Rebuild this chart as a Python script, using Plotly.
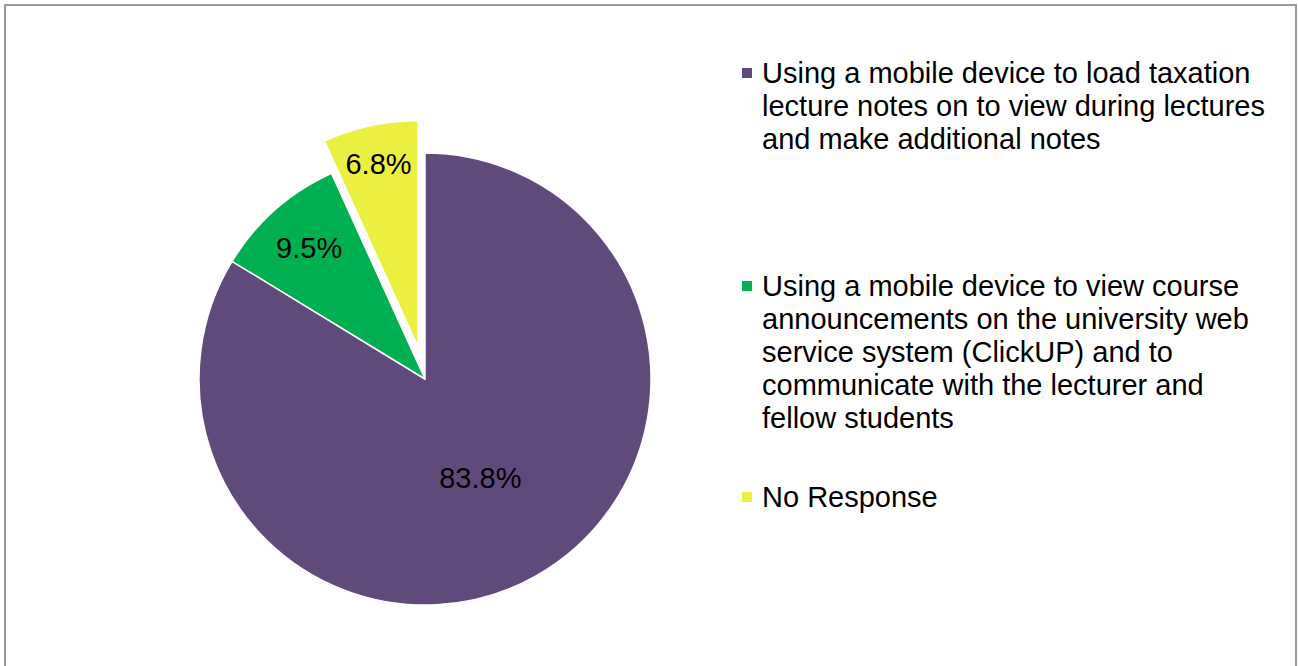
import plotly.graph_objects as go

# Survey responses: how students use mobile devices in taxation lectures
categories = [
    "Using a mobile device to load taxation lecture notes on to view during lectures and make additional notes",
    "Using a mobile device to view course announcements on the university web service system (ClickUP) and to communicate with the lecturer and fellow students",
    "No Response",
]
shares = [83.8, 9.5, 6.8]
colors = ["#604A7B", "#00B050", "#EBEF40"]
pulls = [0, 0, 0.146]

# Legend text, wrapped as in the chart
legend_lines = [
    ["Using a mobile device to load taxation",
     "lecture notes on to view during lectures",
     "and make additional notes"],
    ["Using a mobile device to view course",
     "announcements on the university web",
     "service system (ClickUP) and to",
     "communicate with the lecturer and",
     "fellow students"],
    ["No Response"],
]
legend_line_px = [[73, 106, 139], [286, 319, 352, 385, 418], [497]]

W, H = 1298, 666
FONT = "Liberation Sans, Arial, sans-serif"

fig = go.Figure()
fig.add_trace(go.Pie(
    labels=categories,
    values=shares,
    sort=False,
    direction="clockwise",
    rotation=0,
    pull=pulls,
    marker=dict(colors=colors, line=dict(color="white", width=1.5)),
    texttemplate="%{value:.1f}%",
    textposition="inside",
    insidetextorientation="horizontal",
    textfont=dict(family=FONT, size=29, color="black"),
    showlegend=False,
    hoverinfo="label+value",
    domain=dict(x=[166 / W, 684 / W], y=[1 - 638 / H, 1 - 120 / H]),
))

shapes = [
    # outer frame
    dict(type="rect", xref="paper", yref="paper",
         x0=5 / W, x1=1296 / W, y0=-0.02, y1=1 - 5 / H,
         line=dict(color="#9A9A9A", width=2), fillcolor="rgba(0,0,0,0)"),
]
annotations = []
for lines, ys, col in zip(legend_lines, legend_line_px, colors):
    y0 = ys[0]
    shapes.append(dict(type="rect", xref="paper", yref="paper",
                       x0=742 / W, x1=752 / W,
                       y0=1 - (y0 + 5) / H, y1=1 - (y0 - 5) / H,
                       fillcolor=col, line=dict(width=0)))
    for txt, y in zip(lines, ys):
        annotations.append(dict(
            xref="paper", yref="paper", x=760 / W, y=1 - y / H,
            xanchor="left", yanchor="middle", showarrow=False,
            text=txt, font=dict(family=FONT, size=29, color="black")))

fig.update_layout(
    width=W, height=H,
    margin=dict(l=0, r=0, t=0, b=0),
    paper_bgcolor="white",
    plot_bgcolor="white",
    shapes=shapes,
    annotations=annotations,
)

fig.write_html("out.html")
